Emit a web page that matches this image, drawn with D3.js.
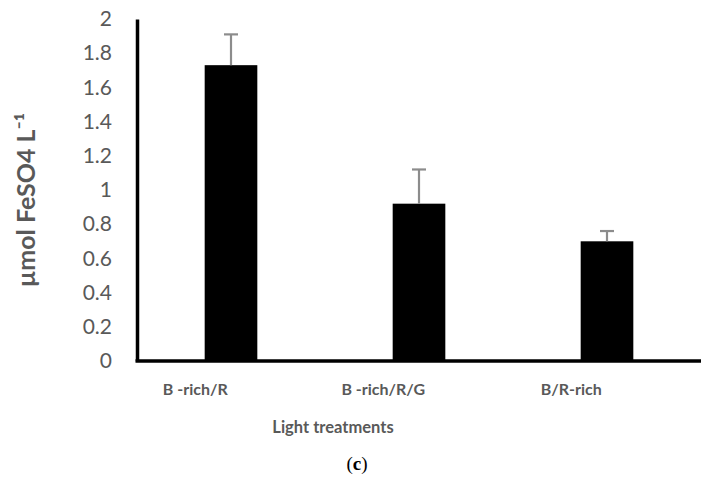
<!DOCTYPE html>
<html>
<head>
<meta charset="utf-8">
<script src="https://cdn.jsdelivr.net/npm/d3@7/dist/d3.min.js"></script>
<style>
  body { margin: 0; background: #fff; }
  svg { display: block; }
</style>
</head>
<body>
<script>
// data
var categories = ["B -rich/R", "B -rich/R/G", "B/R-rich"];
var values = [1.73, 0.92, 0.70];
var errors = [0.18, 0.20, 0.06];
var yTicks = [0, 0.2, 0.4, 0.6, 0.8, 1, 1.2, 1.4, 1.6, 1.8, 2];

var width = 712, height = 480;
var margin = {left: 137, right: 11, top: 19, bottom: 119};
var grey = "#595959";

var svg = d3.select("body").append("svg")
    .attr("width", width)
    .attr("height", height);

var xScale = d3.scaleBand()
    .domain(categories)
    .range([margin.left, width - margin.right])
    .padding(0);

var yScale = d3.scaleLinear()
    .domain([0, 2])
    .range([height - margin.bottom, margin.top]);

var bw = xScale.bandwidth();

// bars (sit a bit right of band centre, like the excel original)
svg.selectAll("rect.bar")
    .data(values)
    .enter().append("rect")
        .attr("class", "bar")
        .attr("x", function(d, i){ return xScale(categories[i]) + bw * 0.36; })
        .attr("width", bw * 0.28)
        .attr("y", function(d){ return yScale(d); })
        .attr("height", function(d){ return yScale(0) - yScale(d); })
        .attr("fill", "#000");

// error bars
var eb = svg.selectAll("g.err")
    .data(values)
    .enter().append("g")
        .attr("class", "err")
        .attr("stroke", "#8c8c8c")
        .attr("stroke-width", 2.2);

eb.append("line")
    .attr("x1", function(d, i){ return xScale(categories[i]) + bw * 0.5; })
    .attr("x2", function(d, i){ return xScale(categories[i]) + bw * 0.5; })
    .attr("y1", function(d){ return yScale(d); })
    .attr("y2", function(d, i){ return yScale(d + errors[i]); });

eb.append("line")
    .attr("x1", function(d, i){ return xScale(categories[i]) + bw * 0.5 - 7; })
    .attr("x2", function(d, i){ return xScale(categories[i]) + bw * 0.5 + 7; })
    .attr("y1", function(d, i){ return yScale(d + errors[i]); })
    .attr("y2", function(d, i){ return yScale(d + errors[i]); });

// y axis
var yAxis = svg.append("g")
    .attr("transform", "translate(" + margin.left + ",0)")
    .call(d3.axisLeft(yScale).tickValues(yTicks).tickSize(0).tickPadding(25)
        .tickFormat(function(d){ return String(d); }));
yAxis.select(".domain").attr("stroke", "#000").attr("stroke-width", 3.5);
yAxis.selectAll("text")
    .attr("fill", grey)
    .style("font-family", "Lato, 'Open Sans', sans-serif")
    .style("font-size", "21px");

// x axis line
svg.append("line")
    .attr("x1", margin.left - 1.5)
    .attr("x2", width - margin.right)
    .attr("y1", yScale(0))
    .attr("y2", yScale(0))
    .attr("stroke", "#000")
    .attr("stroke-width", 3.5);

// category labels
svg.selectAll("text.cat")
    .data(categories)
    .enter().append("text")
        .attr("class", "cat")
        .attr("x", function(d){ return xScale(d) + bw * 0.31; })
        .attr("y", 395)
        .attr("text-anchor", "middle")
        .attr("fill", grey)
        .style("font-family", "Lato, 'Open Sans', sans-serif")
        .style("font-weight", "bold")
        .style("font-size", "16px")
        .text(function(d){ return d; });

// axis titles
svg.append("text")
    .attr("x", 333)
    .attr("y", 433)
    .attr("text-anchor", "middle")
    .attr("fill", grey)
    .style("font-family", "Lato, 'Open Sans', sans-serif")
    .style("font-weight", "bold")
    .style("font-size", "16.5px")
    .text("Light treatments");

svg.append("text")
    .attr("transform", "translate(35,200) rotate(-90)")
    .attr("text-anchor", "middle")
    .attr("fill", grey)
    .style("font-family", "Lato, 'Open Sans', sans-serif")
    .style("font-weight", "bold")
    .style("font-size", "25px")
    .text("µmol FeSO4 L\u207B\u00B9");

// panel label
svg.append("text")
    .attr("x", 357)
    .attr("y", 470)
    .attr("text-anchor", "middle")
    .attr("fill", "#000")
    .style("font-family", "'Liberation Serif', 'DejaVu Serif', serif")
    .style("font-size", "19px")
    .html("(<tspan font-weight='bold'>c</tspan>)");
</script>
</body>
</html>
